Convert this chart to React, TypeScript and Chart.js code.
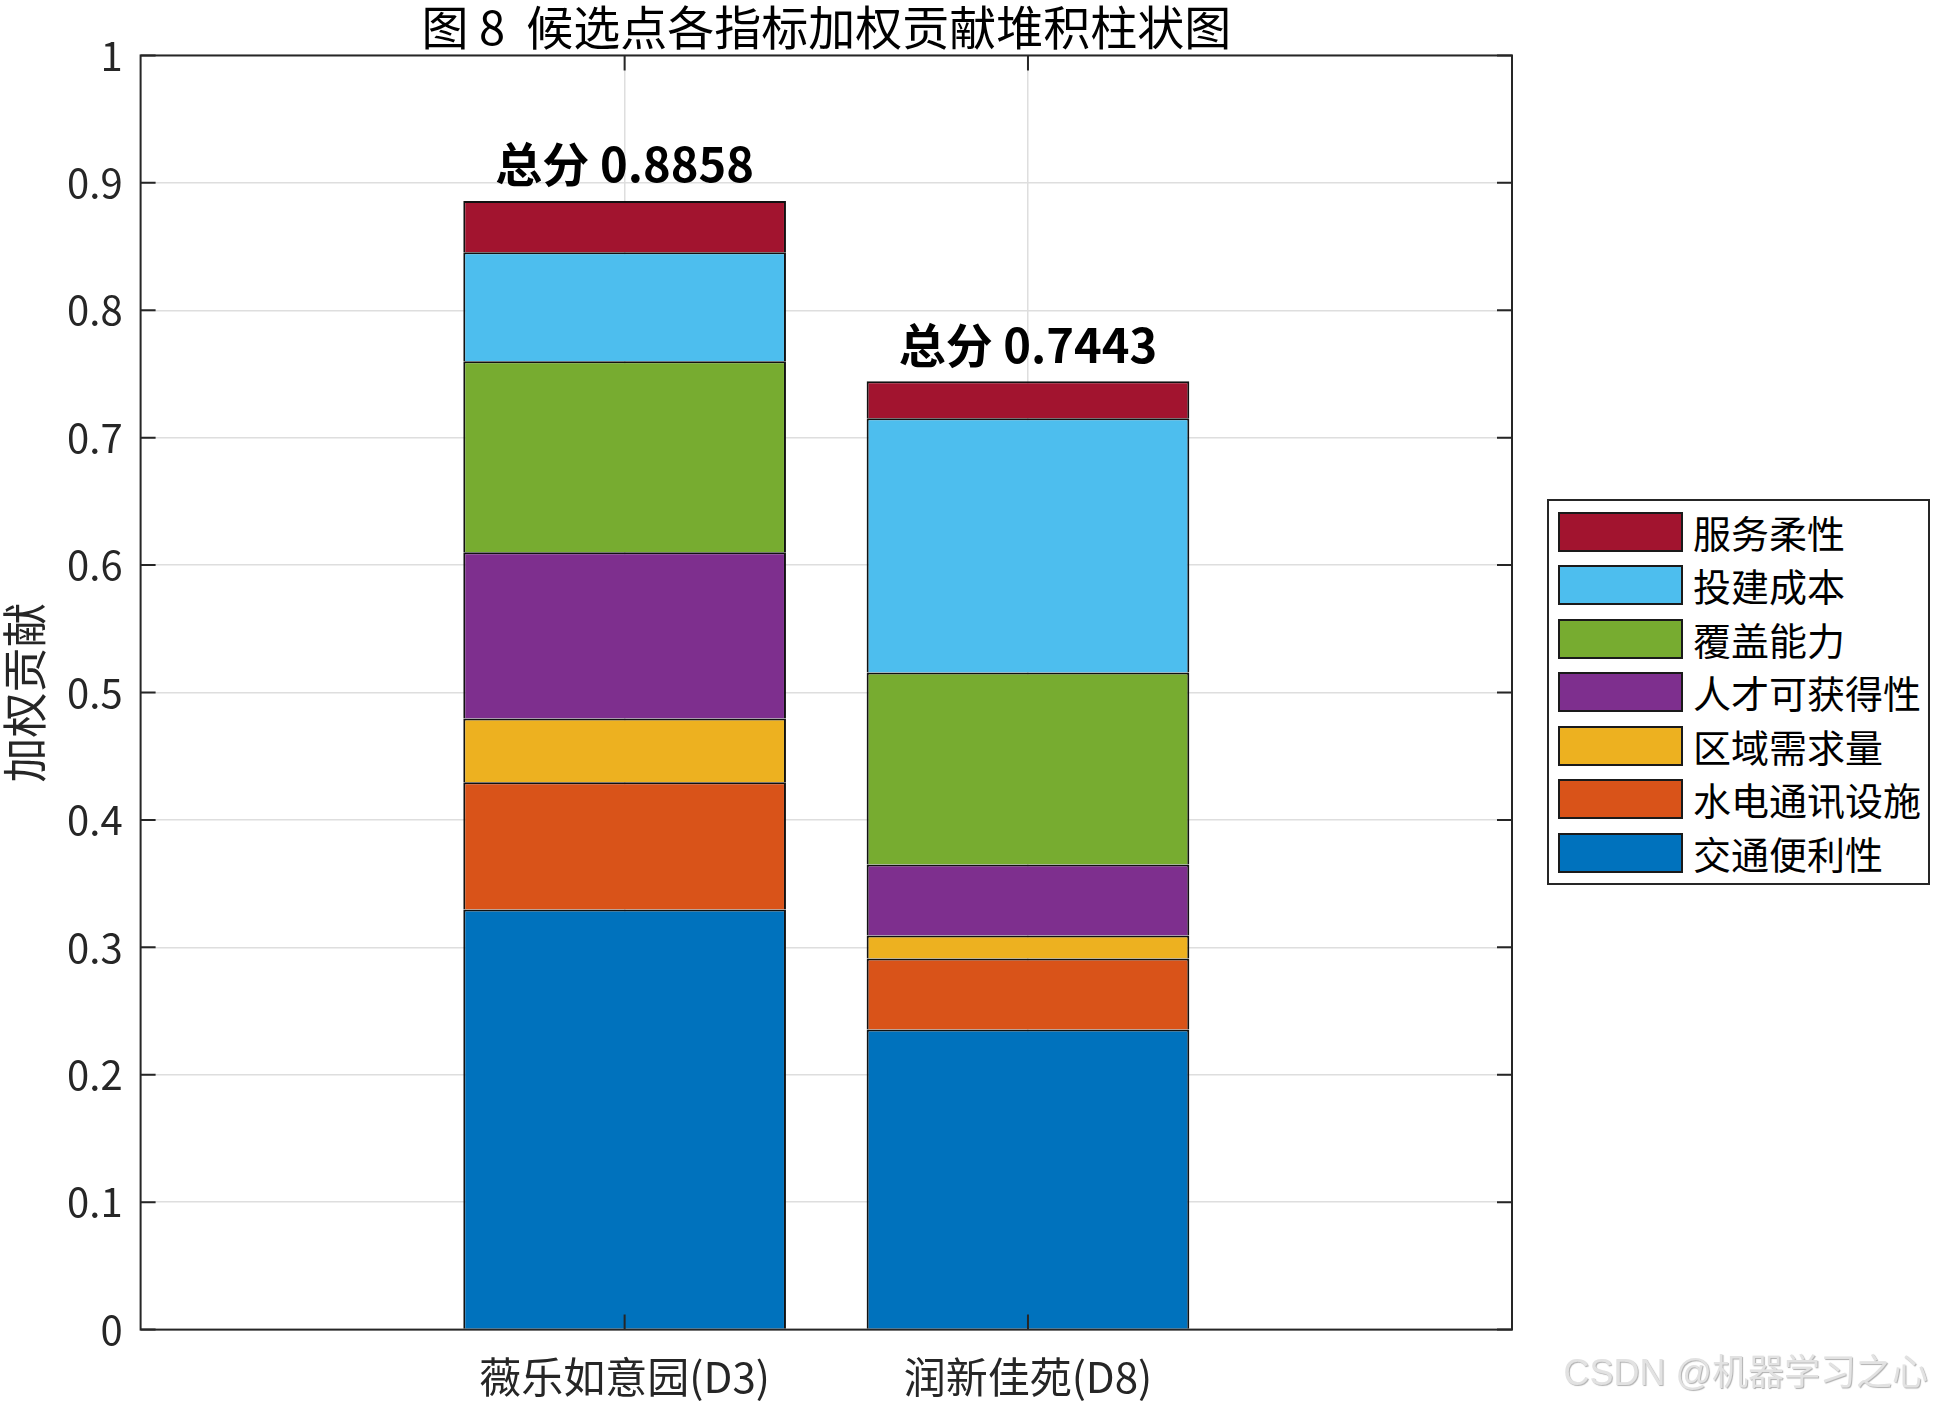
import { useEffect, useRef } from "react"
import { Chart, registerables } from "chart.js"

Chart.register(...registerables)

const FONT = '"Noto Sans CJK SC", "Noto Sans", sans-serif'

const title = "图 8  候选点各指标加权贡献堆积柱状图"
const yTitle = "加权贡献"
const sites = ["薇乐如意园(D3)", "润新佳苑(D8)"]
const indicators = ["交通便利性", "水电通讯设施", "区域需求量", "人才可获得性", "覆盖能力", "投建成本", "服务柔性"]
const colors = ["#0072BD", "#D95319", "#EDB120", "#7E2F8E", "#77AC30", "#4DBEEE", "#A2142F"]

// weighted contribution per indicator: [D3, D8]
const traffic = [0.3298, 0.2356]
const utilities = [0.0997, 0.0557]
const demand = [0.0502, 0.0181]
const talent = [0.1303, 0.0557]
const coverage = [0.15, 0.1507]
const cost = [0.0855, 0.1994]
const flexibility = [0.0403, 0.0291]

const contributions = [traffic, utilities, demand, talent, coverage, cost, flexibility]

const totalsPlugin = {
    id: "totals",
    afterDatasetsDraw(chart: any) {
        const { ctx, scales: { x, y } } = chart
        ctx.save()
        ctx.font = `bold 47px ${FONT}`
        ctx.fillStyle = "#000"
        ctx.textAlign = "center"
        ctx.textBaseline = "bottom"
        sites.forEach((_, i) => {
            const total = contributions.reduce((s, row) => s + row[i], 0)
            ctx.fillText(`总分 ${total.toFixed(4)}`, x.getPixelForValue(i + 1), y.getPixelForValue(total) - 13)
        })
        ctx.restore()
    }
}

// box around the axes and inward tick marks, like matlab
const framePlugin = {
    id: "frame",
    afterDatasetsDraw(chart: any) {
        const { ctx, chartArea: { left, right, top, bottom }, scales: { x, y } } = chart
        ctx.save()
        ctx.strokeStyle = "#262626"
        ctx.lineWidth = 2
        ctx.beginPath()
        y.ticks.forEach((t: any) => {
            const py = y.getPixelForValue(t.value)
            ctx.moveTo(left, py)
            ctx.lineTo(left + 15, py)
            ctx.moveTo(right, py)
            ctx.lineTo(right - 15, py)
        })
        x.ticks.forEach((t: any) => {
            const px = x.getPixelForValue(t.value)
            ctx.moveTo(px, bottom)
            ctx.lineTo(px, bottom - 15)
            ctx.moveTo(px, top)
            ctx.lineTo(px, top + 15)
        })
        ctx.stroke()
        ctx.strokeRect(left, top, right - left, bottom - top)
        ctx.restore()
    }
}

function StackedChart() {
    const canvasRef = useRef<HTMLCanvasElement>(null)

    useEffect(() => {
        const instance = new Chart(canvasRef.current!, {
            type: "bar",
            data: {
                datasets: contributions.map((row, k) => ({
                    label: indicators[k],
                    data: row.map((v, i) => ({ x: i + 1, y: v })),
                    backgroundColor: colors[k],
                    borderColor: "#111",
                    borderWidth: 2,
                    categoryPercentage: 1,
                    barPercentage: 0.8
                }))
            },
            options: {
                animation: false,
                responsive: true,
                maintainAspectRatio: false,
                devicePixelRatio: 1,
                layout: { padding: { left: 0, right: 422, top: 0, bottom: 0 } },
                plugins: {
                    legend: { display: false },
                    tooltip: { enabled: false },
                    title: {
                        display: true,
                        text: title,
                        fullSize: false,
                        color: "#000",
                        font: { family: FONT, size: 47, weight: "normal", lineHeight: 1.15 },
                        padding: { top: 0, bottom: 1.4 }
                    }
                },
                scales: {
                    x: {
                        type: "linear",
                        stacked: true,
                        offset: false,
                        min: -0.2,
                        max: 3.2,
                        afterBuildTicks: (scale: any) => {
                            scale.ticks = sites.map((_, i) => ({ value: i + 1 }))
                        },
                        afterFit: (scale: any) => { scale.height = 72.4 },
                        ticks: {
                            callback: (v: any) => sites[Number(v) - 1] ?? "",
                            color: "#262626",
                            font: { family: FONT, size: 42 },
                            padding: 22,
                            maxRotation: 0,
                            autoSkip: false
                        },
                        grid: { color: "#dedede", lineWidth: 1.5, drawTicks: false, offset: false },
                        border: { display: false }
                    },
                    y: {
                        stacked: true,
                        min: 0,
                        max: 1,
                        afterFit: (scale: any) => { scale.width = 140.6 },
                        ticks: {
                            stepSize: 0.1,
                            callback: (v: any) => String(Math.round(Number(v) * 10) / 10),
                            color: "#262626",
                            font: { family: FONT, size: 40 },
                            padding: 18
                        },
                        title: {
                            display: true,
                            text: yTitle,
                            color: "#262626",
                            font: { family: FONT, size: 45, lineHeight: 1.1 },
                            padding: { top: 0, bottom: 0 }
                        },
                        grid: { color: "#dedede", lineWidth: 1.5, drawTicks: false },
                        border: { display: false }
                    }
                }
            },
            plugins: [totalsPlugin, framePlugin]
        } as any)

        return () => {
            instance.destroy()
        }
    }, [])

    return <canvas ref={canvasRef}></canvas>
}

function Legend() {
    const items = indicators.map((name, k) => ({ name, color: colors[k] })).reverse()

    return (
        <div style={{
            position: "absolute", left: 1547, top: 499, width: 383, height: 386,
            boxSizing: "border-box", border: "2px solid #262626", background: "#fff",
            padding: "4px 0 0 9px"
        }}>
            {items.map((item) => (
                <div key={item.name} style={{ display: "flex", alignItems: "center", height: 53.5 }}>
                    <div style={{
                        width: 125, height: 40, boxSizing: "border-box",
                        background: item.color, border: "2px solid #1a1a1a"
                    }}></div>
                    <span style={{ marginLeft: 10, fontSize: 38, lineHeight: "40px", fontFamily: FONT, color: "#000" }}>
                        {item.name}
                    </span>
                </div>
            ))}
        </div>
    )
}

export default function App() {
    return (
        <div style={{ position: "absolute", left: 0, top: 0, width: 1934, height: 1402, background: "#fff" }}>
            <StackedChart />
            <Legend />
            <div style={{
                position: "absolute", right: 6, top: 1343, fontSize: 36, fontFamily: '"Liberation Sans", Arial, ' + FONT,
                color: "#e2e2e2", textShadow: "1px 1px 1px #b0b0b0"
            }}>
                CSDN @机器学习之心
            </div>
        </div>
    )
}
